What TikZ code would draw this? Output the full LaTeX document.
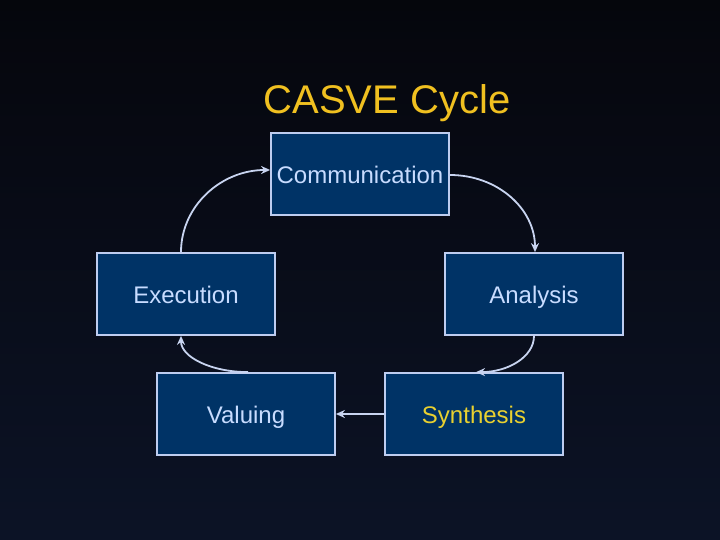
\documentclass[tikz,border=0pt]{standalone}
\usepackage{fontspec}
\setmainfont{Liberation Sans}
\usetikzlibrary{arrows.meta}
\definecolor{bgtop}{RGB}{5,6,12}
\definecolor{bgbot}{RGB}{12,19,38}
\definecolor{boxfill}{RGB}{0,51,102}
\definecolor{boxline}{RGB}{190,205,240}
\definecolor{boxtext}{RGB}{200,220,255}
\definecolor{titleyellow}{RGB}{240,192,32}
\definecolor{synthyellow}{RGB}{232,208,48}
\definecolor{arrowcol}{RGB}{200,212,240}
\tikzset{
  stagebox/.style={draw=boxline, line width=1.8pt, fill=boxfill, text=boxtext,
    minimum width=178pt, minimum height=82pt, inner sep=0pt,
    text height=22pt, text depth=3.5pt,
    font=\fontsize{24}{28}\selectfont},
  flow/.style={draw=arrowcol, line width=1.8pt, -{Stealth[length=9pt,width=8pt]}},
  titletext/.style={text=titleyellow, font=\fontsize{40}{46}\selectfont, inner sep=0pt}
}
\begin{document}
\begin{tikzpicture}[x=1pt,y=-1pt]
  \shade[top color=bgtop, bottom color=bgbot] (0,0) rectangle (720,540);
  \useasboundingbox (0,0) rectangle (720,540);
  \node[titletext] (title) at (387,103) {CASVE Cycle};
  \node[stagebox] (comm) at (360,174) {Communication};
  \node[stagebox] (exec) at (186,294) {Execution};
  \node[stagebox] (anal) at (534,294) {Analysis};
  \node[stagebox] (valu) at (246,414) {Valuing};
  \node[stagebox, text=synthyellow] (synt) at (474,414) {Synthesis};
  \draw[flow] ([xshift=-5pt]exec.north) .. controls +(0,-46) and +(-49,0) .. ([yshift=4pt]comm.west);
  \draw[flow] ([yshift=-1pt]comm.east) .. controls +(48,0) and +(0,-43) .. ([xshift=1pt]anal.north);
  \draw[flow] (anal.south) .. controls +(0,21) and +(32,0) .. ([xshift=2pt]synt.north);
  \draw[flow] (synt.west) -- (valu.east);
  \draw[flow] ([xshift=2pt]valu.north) .. controls +(-37,0) and +(0,21) .. ([xshift=-5pt]exec.south);
\end{tikzpicture}
\end{document}
